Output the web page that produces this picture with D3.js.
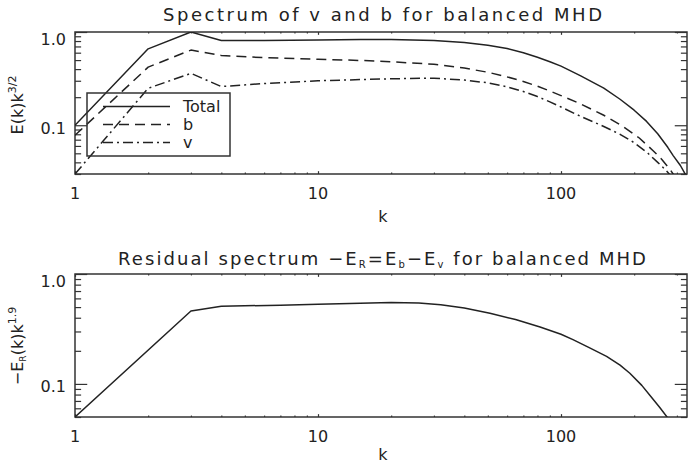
<!DOCTYPE html>
<html><head><meta charset="utf-8">
<script src="https://cdn.jsdelivr.net/npm/d3@7"></script>
<style>
html,body{margin:0;padding:0;background:#fff;}
svg{display:block;font-family:"DejaVu Sans",sans-serif;}
</style></head>
<body><svg id="chart" width="690" height="466"></svg>
<script>
// ---------- data ----------
const kTotal = [1,2,3,4,6,10,15,20,30,40,50,60,70,80,90,100,120,150,175,200,225,250,275,290,310,322,330];
const eTotal = [0.1,0.66,1.0,0.81,0.81,0.82,0.83,0.83,0.81,0.77,0.72,0.665,0.60,0.535,0.48,0.43,0.34,0.25,0.19,0.145,0.11,0.081,0.058,0.047,0.037,0.031,0.028];
const kB = [1,2,3,4,6,10,15,20,30,40,50,60,70,80,90,100,120,150,180,210,240,260,280,292];
const eB = [0.078,0.42,0.64,0.56,0.53,0.51,0.495,0.48,0.45,0.41,0.37,0.33,0.295,0.262,0.233,0.208,0.17,0.128,0.097,0.073,0.053,0.043,0.034,0.029];
const kV = [1,2,3,4,6,10,20,30,40,50,60,70,80,90,100,120,150,175,200,228,250,270,282];
const eV = [0.03,0.249,0.36,0.26,0.28,0.30,0.315,0.32,0.305,0.285,0.258,0.23,0.203,0.178,0.157,0.125,0.097,0.08,0.065,0.05,0.04,0.033,0.029];
const kR = [1,3,4,7,10,13.5,20,26,32,40,51,65,82,100,112,130,154,175,192,215,232,255,275];
const eR = [0.05,0.46,0.51,0.52,0.53,0.54,0.55,0.545,0.525,0.49,0.44,0.385,0.33,0.283,0.253,0.215,0.178,0.148,0.125,0.097,0.079,0.061,0.049];

const xMajor = [1,10,100];
const xMajorLabels = ["1","10","100"];
const xMinor = [2,3,4,5,6,7,8,9,20,30,40,50,60,70,80,90,200,300];
const yMajor = [0.1,1.0];
const yMajorLabels = ["0.1","1.0"];
const yMinorTop = [0.03,0.04,0.05,0.06,0.07,0.08,0.09,0.2,0.3,0.4,0.5,0.6,0.7,0.8,0.9];
const yMinorBot = [0.05,0.06,0.07,0.08,0.09,0.2,0.3,0.4,0.5,0.6,0.7,0.8,0.9];
const legendNames = ["Total","b","v"];

// ---------- drawing ----------
const svg = d3.select("#chart");
const ink = "#222";
const axisCol = "#333";
const L = 75, R = 687;
const x = d3.scaleLog().domain([1,330]).range([L,R]);

function panel(top, bottom, yDomain, yMinor, series, cfg){
  const y = d3.scaleLog().domain(yDomain).range([bottom, top]);
  const g = svg.append("g");
  const H = bottom - top, W = R - L;
  const xt = 0.02*H, yt = 0.02*W;
  function addAxis(axis, tr){
    const a = g.append("g").attr("transform", tr).call(axis);
    a.select(".domain").remove();
    a.selectAll("line").attr("stroke", axisCol).attr("stroke-width", 1.2);
    a.selectAll("text").remove();
  }
  addAxis(d3.axisBottom(x).tickValues(xMajor).tickSize(-xt), `translate(0,${bottom})`);
  addAxis(d3.axisBottom(x).tickValues(xMinor).tickSize(-xt/2), `translate(0,${bottom})`);
  addAxis(d3.axisTop(x).tickValues(xMajor).tickSize(-xt), `translate(0,${top})`);
  addAxis(d3.axisTop(x).tickValues(xMinor).tickSize(-xt/2), `translate(0,${top})`);
  addAxis(d3.axisLeft(y).tickValues(yMajor).tickSize(-yt), `translate(${L},0)`);
  addAxis(d3.axisLeft(y).tickValues(yMinor).tickSize(-yt/2), `translate(${L},0)`);
  addAxis(d3.axisRight(y).tickValues(yMajor).tickSize(-yt), `translate(${R},0)`);
  addAxis(d3.axisRight(y).tickValues(yMinor).tickSize(-yt/2), `translate(${R},0)`);
  g.append("rect").attr("x",L).attr("y",top).attr("width",W).attr("height",H)
    .attr("fill","none").attr("stroke",axisCol).attr("stroke-width",1.5);

  xMajor.forEach((v,i)=>{
    g.append("text").attr("x",x(v)).attr("y",bottom+25).attr("text-anchor","middle")
      .attr("font-size",16).attr("fill",ink).text(xMajorLabels[i]);
  });
  yMajor.forEach((v,i)=>{
    g.append("text").attr("x",L-9).attr("y",y(v)+(v===1?13:8.5)).attr("text-anchor","end")
      .attr("font-size",16).attr("fill",ink).text(yMajorLabels[i]);
  });
  g.append("text").attr("x",383).attr("y",bottom+cfg.kOff).attr("text-anchor","middle")
    .attr("font-size",16).attr("fill",ink).text("k");

  const clipId = "clip"+top;
  svg.append("clipPath").attr("id",clipId).append("rect")
    .attr("x",L).attr("y",top).attr("width",W).attr("height",H);
  const line = d3.line().x(d=>x(d[0])).y(d=>y(d[1]));
  series.forEach(s=>{
    g.append("path").attr("clip-path",`url(#${clipId})`)
      .attr("d", line(s.k.map((k,i)=>[k,s.e[i]])))
      .attr("fill","none").attr("stroke",ink).attr("stroke-width",1.5)
      .attr("stroke-linejoin","round")
      .attr("stroke-dasharray", s.dash||null);
  });
  return {g,y};
}

const dashB = "10,6";
const dashV = "10,4,2,4";

const P1 = panel(32, 174, [0.03,1.0], yMinorTop, [
  {k:kTotal, e:eTotal},
  {k:kB, e:eB, dash:dashB},
  {k:kV, e:eV, dash:dashV}
], {kOff:48});

svg.append("text").attr("x",163).attr("y",21).attr("font-size",18).attr("fill",ink)
  .attr("textLength",439).attr("lengthAdjust","spacing")
  .text("Spectrum of v and b for balanced MHD");

const yt1 = svg.append("text").attr("transform","translate(23,105) rotate(-90)")
  .attr("text-anchor","middle").attr("font-size",16).attr("fill",ink);
yt1.append("tspan").text("E(k)k");
yt1.append("tspan").attr("font-size",11).attr("dy",-7).text("3/2");

svg.append("rect").attr("x",87).attr("y",93).attr("width",143).attr("height",63)
  .attr("fill","none").attr("stroke",axisCol).attr("stroke-width",1.5);
const legY = [106.5,124.5,142.5];
const legDash = [null, dashB, dashV];
legendNames.forEach((n,i)=>{
  svg.append("line").attr("x1",103).attr("x2",170).attr("y1",legY[i]).attr("y2",legY[i])
    .attr("stroke",ink).attr("stroke-width",1.5).attr("stroke-dasharray",legDash[i]);
  svg.append("text").attr("x",183).attr("y",legY[i]+5.5).attr("font-size",16).attr("fill",ink).text(n);
});

const P2 = panel(274, 417, [0.05,1.0], yMinorBot, [
  {k:kR, e:eR}
], {kOff:43});

const t2 = svg.append("text").attr("x",118).attr("y",265).attr("font-size",18).attr("fill",ink)
  .attr("textLength",528).attr("lengthAdjust","spacing");
t2.append("tspan").text("Residual spectrum \u2212E");
t2.append("tspan").attr("font-size",10).attr("dy",3).text("R");
t2.append("tspan").attr("dy",-3).text("=E");
t2.append("tspan").attr("font-size",10).attr("dy",3).text("b");
t2.append("tspan").attr("dy",-3).text("\u2212E");
t2.append("tspan").attr("font-size",10).attr("dy",3).text("v");
t2.append("tspan").attr("dy",-3).text(" for balanced MHD");

const yt2 = svg.append("text").attr("transform","translate(23,346) rotate(-90)")
  .attr("text-anchor","middle").attr("font-size",16).attr("fill",ink);
yt2.append("tspan").text("\u2212E");
yt2.append("tspan").attr("font-size",9).attr("dy",3).text("R");
yt2.append("tspan").attr("dy",-3).text("(k)k");
yt2.append("tspan").attr("font-size",11).attr("dy",-7).text("1.9");
</script></body></html>
